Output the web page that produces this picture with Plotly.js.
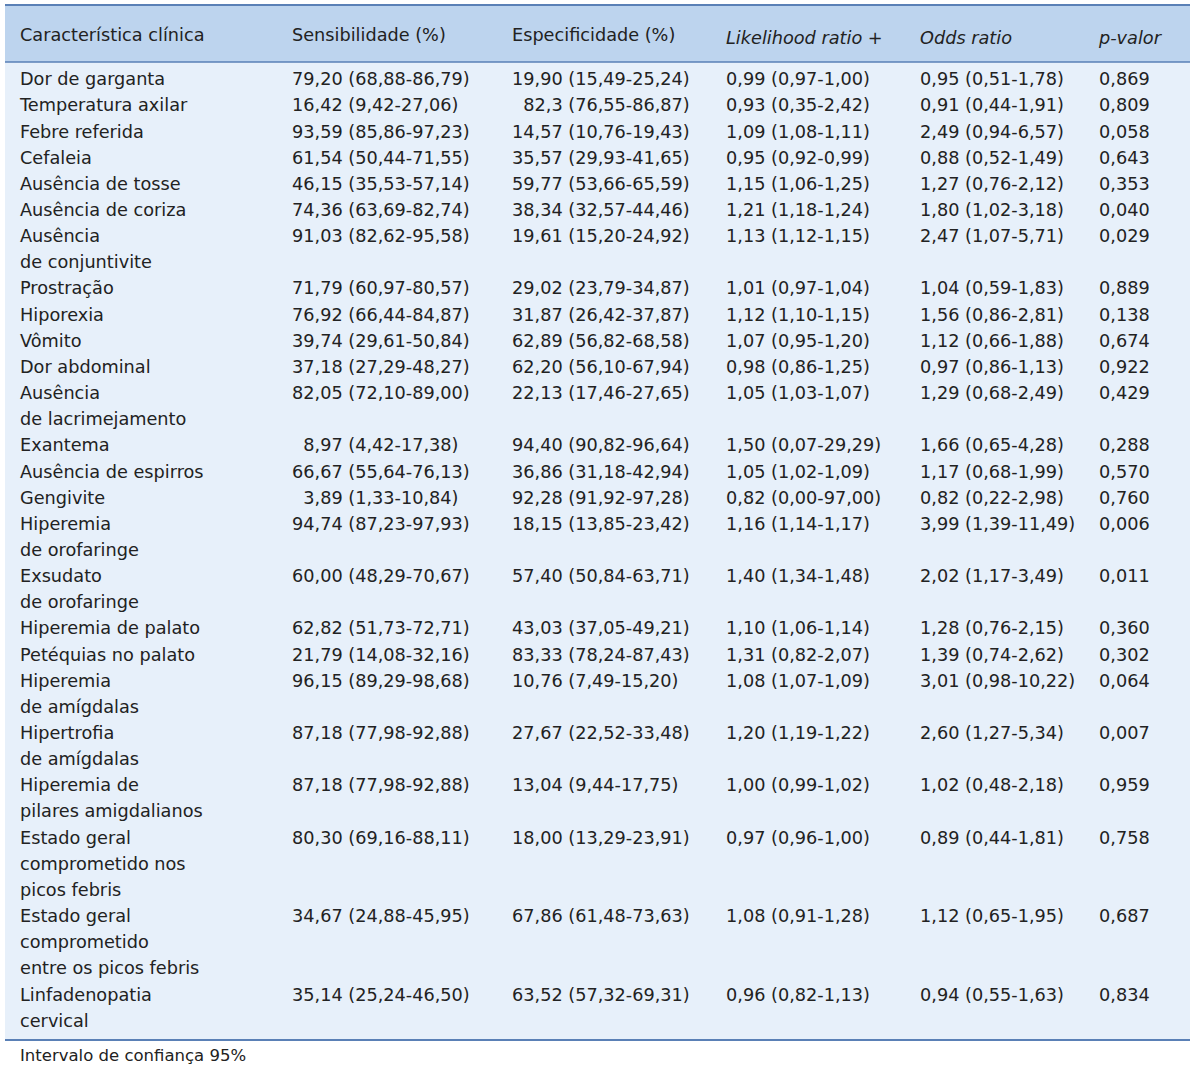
<!DOCTYPE html>
<html>
<head>
<meta charset="utf-8">
<script src="https://cdn.plot.ly/plotly-3.0.1.min.js"></script>
<style>html,body{margin:0;padding:0;background:#fff;}#chart{width:1200px;height:1066px;}</style>
</head>
<body>
<div id="chart"></div>
<script>
// ---- Data ----
var headers = ["Característica clínica", "Sensibilidade (%)", "Especificidade (%)", "<i>Likelihood ratio +</i>", "<i>Odds ratio</i>", "<i>p-valor</i>"];

var caracteristica = ["Dor de garganta", "Temperatura axilar", "Febre referida", "Cefaleia", "Ausência de tosse", "Ausência de coriza", "Ausência\nde conjuntivite", "Prostração", "Hiporexia", "Vômito", "Dor abdominal", "Ausência\nde lacrimejamento", "Exantema", "Ausência de espirros", "Gengivite", "Hiperemia\nde orofaringe", "Exsudato\nde orofaringe", "Hiperemia de palato", "Petéquias no palato", "Hiperemia\nde amígdalas", "Hipertrofia\nde amígdalas", "Hiperemia de\npilares amigdalianos", "Estado geral\ncomprometido nos\npicos febris", "Estado geral\ncomprometido\nentre os picos febris", "Linfadenopatia\ncervical"];

var sensibilidade = ["79,20 (68,88-86,79)", "16,42 (9,42-27,06)", "93,59 (85,86-97,23)", "61,54 (50,44-71,55)", "46,15 (35,53-57,14)", "74,36 (63,69-82,74)", "91,03 (82,62-95,58)", "71,79 (60,97-80,57)", "76,92 (66,44-84,87)", "39,74 (29,61-50,84)", "37,18 (27,29-48,27)", "82,05 (72,10-89,00)", "8,97 (4,42-17,38)", "66,67 (55,64-76,13)", "3,89 (1,33-10,84)", "94,74 (87,23-97,93)", "60,00 (48,29-70,67)", "62,82 (51,73-72,71)", "21,79 (14,08-32,16)", "96,15 (89,29-98,68)", "87,18 (77,98-92,88)", "87,18 (77,98-92,88)", "80,30 (69,16-88,11)", "34,67 (24,88-45,95)", "35,14 (25,24-46,50)"];

var especificidade = ["19,90 (15,49-25,24)", "82,3 (76,55-86,87)", "14,57 (10,76-19,43)", "35,57 (29,93-41,65)", "59,77 (53,66-65,59)", "38,34 (32,57-44,46)", "19,61 (15,20-24,92)", "29,02 (23,79-34,87)", "31,87 (26,42-37,87)", "62,89 (56,82-68,58)", "62,20 (56,10-67,94)", "22,13 (17,46-27,65)", "94,40 (90,82-96,64)", "36,86 (31,18-42,94)", "92,28 (91,92-97,28)", "18,15 (13,85-23,42)", "57,40 (50,84-63,71)", "43,03 (37,05-49,21)", "83,33 (78,24-87,43)", "10,76 (7,49-15,20)", "27,67 (22,52-33,48)", "13,04 (9,44-17,75)", "18,00 (13,29-23,91)", "67,86 (61,48-73,63)", "63,52 (57,32-69,31)"];

var likelihoodRatio = ["0,99 (0,97-1,00)", "0,93 (0,35-2,42)", "1,09 (1,08-1,11)", "0,95 (0,92-0,99)", "1,15 (1,06-1,25)", "1,21 (1,18-1,24)", "1,13 (1,12-1,15)", "1,01 (0,97-1,04)", "1,12 (1,10-1,15)", "1,07 (0,95-1,20)", "0,98 (0,86-1,25)", "1,05 (1,03-1,07)", "1,50 (0,07-29,29)", "1,05 (1,02-1,09)", "0,82 (0,00-97,00)", "1,16 (1,14-1,17)", "1,40 (1,34-1,48)", "1,10 (1,06-1,14)", "1,31 (0,82-2,07)", "1,08 (1,07-1,09)", "1,20 (1,19-1,22)", "1,00 (0,99-1,02)", "0,97 (0,96-1,00)", "1,08 (0,91-1,28)", "0,96 (0,82-1,13)"];

var oddsRatio = ["0,95 (0,51-1,78)", "0,91 (0,44-1,91)", "2,49 (0,94-6,57)", "0,88 (0,52-1,49)", "1,27 (0,76-2,12)", "1,80 (1,02-3,18)", "2,47 (1,07-5,71)", "1,04 (0,59-1,83)", "1,56 (0,86-2,81)", "1,12 (0,66-1,88)", "0,97 (0,86-1,13)", "1,29 (0,68-2,49)", "1,66 (0,65-4,28)", "1,17 (0,68-1,99)", "0,82 (0,22-2,98)", "3,99 (1,39-11,49)", "2,02 (1,17-3,49)", "1,28 (0,76-2,15)", "1,39 (0,74-2,62)", "3,01 (0,98-10,22)", "2,60 (1,27-5,34)", "1,02 (0,48-2,18)", "0,89 (0,44-1,81)", "1,12 (0,65-1,95)", "0,94 (0,55-1,63)"];

var pValor = ["0,869", "0,809", "0,058", "0,643", "0,353", "0,040", "0,029", "0,889", "0,138", "0,674", "0,922", "0,429", "0,288", "0,570", "0,760", "0,006", "0,011", "0,360", "0,302", "0,064", "0,007", "0,959", "0,758", "0,687", "0,834"];

var nota = "Intervalo de confiança 95%";

// ---- Build table columns (one visual line per table row) ----
function nb(s) { return s.replace(/ /g, "\u00a0"); }
function padLead(s) {
  var first = s.split(" ")[0];
  var pad = "";
  for (var k = first.length; k < 5; k++) pad += "\u2007";
  return nb(pad + s);
}
var c1 = [], c2 = [], c3 = [], c4 = [], c5 = [], c6 = [];
caracteristica.forEach(function (name, i) {
  var lines = name.split("\n");
  lines.forEach(function (ln, j) {
    c1.push(nb(ln));
    c2.push(j === 0 ? padLead(sensibilidade[i]) : "");
    c3.push(j === 0 ? padLead(especificidade[i]) : "");
    c4.push(j === 0 ? nb(likelihoodRatio[i]) : "");
    c5.push(j === 0 ? nb(oddsRatio[i]) : "");
    c6.push(j === 0 ? nb(pValor[i]) : "");
  });
});

var W = 1200, H = 1066, T = 20;
function py(px) { return (H - px) / (H - T); }
var FONT = "DejaVu Sans";
var FS = 17.7;
var headerFill = "#bdd4ee", bodyFill = "#e7f0fa", lineCol = "#5a80b6";

var trace = {
  type: "table",
  domain: { x: [12 / W, 1190 / W], y: [py(1040), 1] },
  columnwidth: [272, 220, 214, 194, 179, 99],
  header: {
    values: headers.map(nb),
    align: "left",
    height: 44,
    fill: { color: "rgba(0,0,0,0)" },
    line: { color: "rgba(0,0,0,0)", width: 0 },
    font: { family: FONT, size: FS, color: "#222" }
  },
  cells: {
    values: [c1, c2, c3, c4, c5, c6],
    align: "left",
    height: 26.15,
    fill: { color: "rgba(0,0,0,0)" },
    line: { color: "rgba(0,0,0,0)", width: 0 },
    font: { family: FONT, size: FS, color: "#222" }
  }
};

var layout = {
  width: W, height: H,
  margin: { l: 0, r: 0, t: T, b: 0 },
  paper_bgcolor: "#ffffff",
  showlegend: false,
  shapes: [
    { type: "rect", xref: "paper", yref: "paper", layer: "below", x0: 5 / W, x1: 1190 / W, y0: py(62), y1: py(5), fillcolor: headerFill, line: { width: 0 } },
    { type: "rect", xref: "paper", yref: "paper", layer: "below", x0: 5 / W, x1: 1190 / W, y0: py(1040), y1: py(62), fillcolor: bodyFill, line: { width: 0 } },
    { type: "line", xref: "paper", yref: "paper", x0: 5 / W, x1: 1190 / W, y0: py(5), y1: py(5), line: { color: lineCol, width: 2 } },
    { type: "line", xref: "paper", yref: "paper", x0: 5 / W, x1: 1190 / W, y0: py(62), y1: py(62), line: { color: lineCol, width: 1.5 } },
    { type: "line", xref: "paper", yref: "paper", x0: 5 / W, x1: 1190 / W, y0: py(1040), y1: py(1040), line: { color: lineCol, width: 2 } }
  ],
  annotations: [
    { text: nota, xref: "paper", yref: "paper", x: 18 / W, y: py(1055), xanchor: "left", yanchor: "middle", showarrow: false, font: { family: FONT, size: 16.5, color: "#222" } }
  ]
};

Plotly.newPlot("chart", [trace], layout, { displayModeBar: false, staticPlot: true });
</script>
</body>
</html>
